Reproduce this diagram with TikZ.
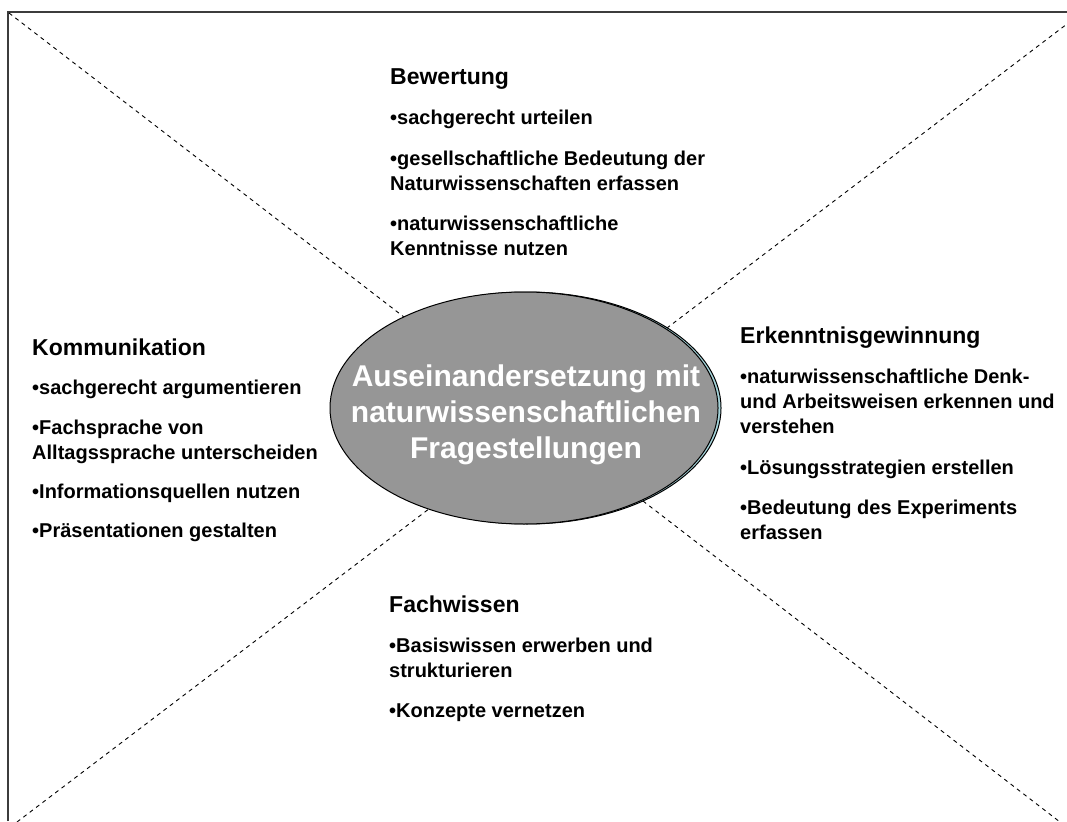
\documentclass[tikz,border=0pt]{standalone}
\usepackage{fontspec}
\setmainfont{Liberation Sans}
\usetikzlibrary{shapes.geometric}
\definecolor{ellgray}{RGB}{150,150,150}
\definecolor{shadowcyan}{RGB}{165,212,218}
\definecolor{framegray}{RGB}{60,60,60}
\tikzset{
  txt/.style={anchor=base west, inner sep=0pt, font=\bfseries\fontsize{20}{25}\selectfont},
  head/.style={anchor=base west, inner sep=0pt, font=\bfseries\fontsize{23}{28}\selectfont},
  diag/.style={dash pattern=on 4pt off 4pt, line width=0.9pt, black},
  ell/.style={ellipse, draw=black, line width=1pt, minimum width=388pt, minimum height=232pt, inner sep=0pt},
}
\begin{document}
\begin{tikzpicture}[x=1pt,y=-1pt]
\useasboundingbox (0,0) rectangle (1067,821);
% frame (only the left and top edges are visible)
\coordinate (fbl) at (8,821);
\coordinate (ftl) at (8,12);
\coordinate (ftr) at (1067,12);
\draw[framegray, line width=1.4pt] (fbl) -- (ftl) -- (ftr);
% diagonals
\coordinate (tl) at (9,13);
\coordinate (br) at (1060,822);
\coordinate (bl) at (17,822);
\coordinate (tr) at (1067,24);
\draw[diag] (tl) -- (br);
\draw[diag] (bl) -- (tr);
% central ellipse with shadow
\node[ell, fill=shadowcyan] (shadow) at (527,408) {};
\node[ell, fill=ellgray] (center) at (524,408) {};
\node[align=center, text=white, inner sep=0pt, font=\bfseries\fontsize{30}{36}\selectfont] (ctext) at (526,415)
  {Auseinandersetzung mit\\naturwissenschaftlichen\\Fragestellungen};
% Bewertung
\node[head] (bw0) at (390,85) {Bewertung};
\node[txt] (bw1) at (390,125) {•sachgerecht urteilen};
\node[txt] (bw2) at (390,165) {•gesellschaftliche Bedeutung der};
\node[txt] (bw3) at (390,190) {Naturwissenschaften erfassen};
\node[txt] (bw4) at (390,230) {•naturwissenschaftliche};
\node[txt] (bw5) at (390,255) {Kenntnisse nutzen};
% Kommunikation
\node[head] (ko0) at (32,355) {Kommunikation};
\node[txt] (ko1) at (32,394) {•sachgerecht argumentieren};
\node[txt] (ko2) at (32,434) {•Fachsprache von};
\node[txt] (ko3) at (32,459) {Alltagssprache unterscheiden};
\node[txt] (ko4) at (32,498) {•Informationsquellen nutzen};
\node[txt] (ko5) at (32,537) {•Präsentationen gestalten};
% Erkenntnisgewinnung
\node[head] (er0) at (740,343) {Erkenntnisgewinnung};
\node[txt] (er1) at (740,383) {•naturwissenschaftliche Denk-};
\node[txt] (er2) at (740,408) {und Arbeitsweisen erkennen und};
\node[txt] (er3) at (740,433) {verstehen};
\node[txt] (er4) at (740,474) {•Lösungsstrategien erstellen};
\node[txt] (er5) at (740,514) {•Bedeutung des Experiments};
\node[txt] (er6) at (740,539) {erfassen};
% Fachwissen
\node[head] (fw0) at (389,612) {Fachwissen};
\node[txt] (fw1) at (389,652) {•Basiswissen erwerben und};
\node[txt] (fw2) at (389,677) {strukturieren};
\node[txt] (fw3) at (389,717) {•Konzepte vernetzen};
\end{tikzpicture}
\end{document}
